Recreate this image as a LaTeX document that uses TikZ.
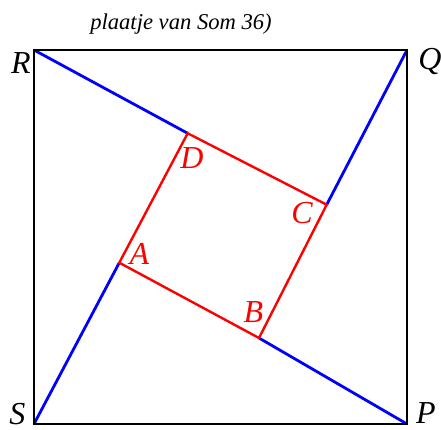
\documentclass[tikz,border=0pt]{standalone}
\usepackage{fontspec}
\setmainfont{Liberation Serif}
\usepackage{tikz}
\usetikzlibrary{positioning}
\definecolor{sBlue}{RGB}{0,0,255}
\definecolor{sRed}{RGB}{255,0,0}
\tikzset{
  frame/.style={draw=black, line width=1.1pt},
  leg/.style={draw=sBlue, line width=1.4pt},
  innersq/.style={draw=sRed, line width=1.2pt},
  vlbl/.style={font=\fontsize{16}{18}\selectfont\itshape, inner sep=0pt},
  ilbl/.style={vlbl, text=sRed},
  ttl/.style={font=\fontsize{11.3}{13}\selectfont\itshape, inner sep=0pt},
}

\begin{document}
\begin{tikzpicture}[x=0.5pt, y=0.5pt]
  \useasboundingbox (0,0) rectangle (441,430);
  % outer square
  \coordinate (S) at (34,6);
  \coordinate (P) at (407,6);
  \coordinate (Q) at (407,380);
  \coordinate (R) at (34,380);
  % inner square
  \coordinate (A) at (119.3,167.3);
  \coordinate (B) at (259,92);
  \coordinate (C) at (326.7,225.3);
  \coordinate (D) at (187.7,296.7);
  \draw[leg] (R) -- (D);
  \draw[leg] (Q) -- (C);
  \draw[leg] (P) -- (B);
  \draw[leg] (S) -- (A);
  \draw[innersq] (A) -- (B) -- (C) -- (D) -- cycle;
  \draw[frame] (S) -- (P) -- (Q) -- (R) -- cycle;
  % labels
  \node[vlbl] (lR) at (21,367) {R};
  \node[vlbl] (lQ) at (430,369) {Q};
  \node[vlbl] (lS) at (17.5,16) {S};
  \node[vlbl] (lP) at (426,17) {P};
  \node[ilbl] (lA) at (139.5,176.5) {A};
  \node[ilbl] (lB) at (253.5,118) {B};
  \node[ilbl] (lC) at (302,217) {C};
  \node[ilbl] (lD) at (192,272) {D};
  \node[ttl] (title) at (181,406) {plaatje van Som 36)};
\end{tikzpicture}
\end{document}
